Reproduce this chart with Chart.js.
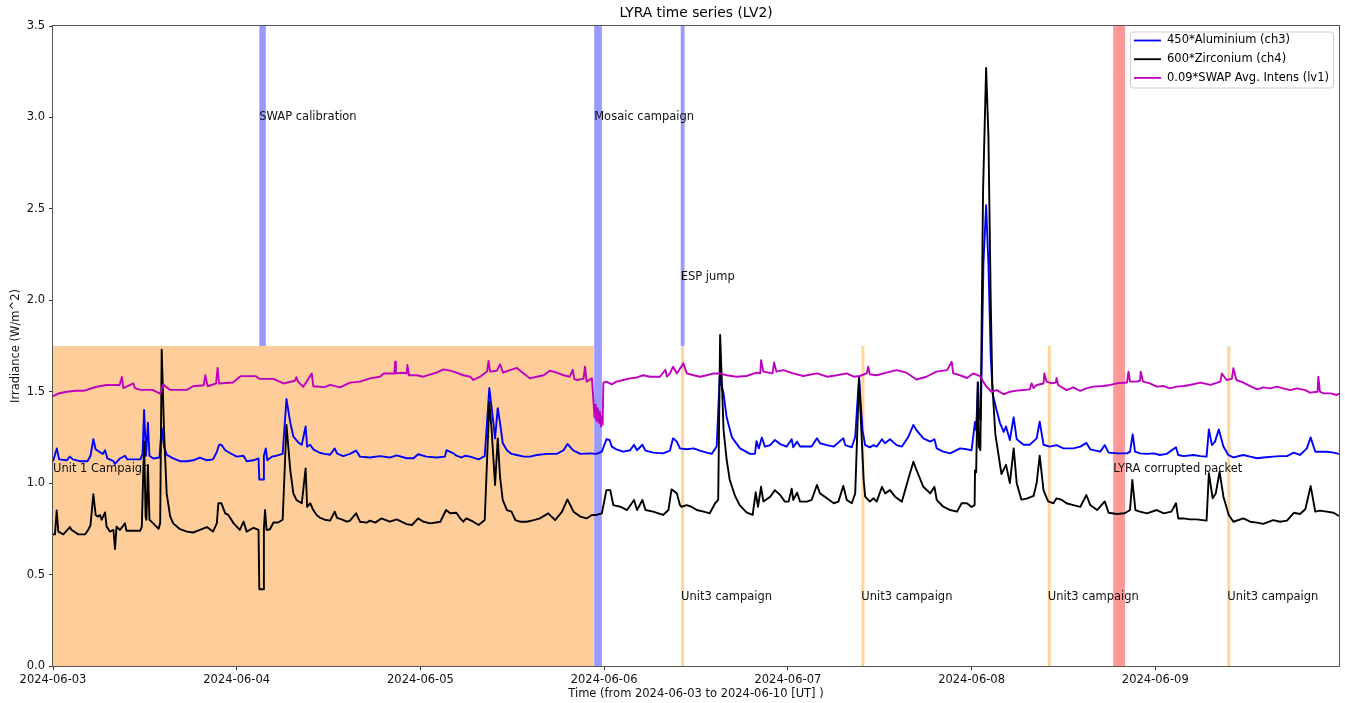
<!DOCTYPE html>
<html>
<head>
<meta charset="utf-8">
<title>LYRA time series (LV2)</title>
<script src="https://cdn.jsdelivr.net/npm/chart.js@4.4.1/dist/chart.umd.min.js"></script>
<style>
  html, body { margin: 0; padding: 0; background: #fff; }
  #wrap { width: 1345px; height: 703px; }
</style>
</head>
<body>
<div id="wrap"><canvas id="lyra-chart"></canvas></div>
<script>
// time axis: hours since 2024-06-03 00:00 UT
const dayLabels = ['2024-06-03', '2024-06-04', '2024-06-05', '2024-06-06', '2024-06-07', '2024-06-08', '2024-06-09', '2024-06-10'];

// 450*Aluminium (ch3)
const alHours = [0, 0.5, 0.8, 1.8, 2.2, 2.6, 3.5, 4.5, 4.9, 5.27, 5.57, 6.1, 6.5, 6.8, 7.1, 7.9, 8.1, 8.75, 9.4, 9.7,
  11.4, 11.7, 11.9, 12.15, 12.4, 12.6, 13.1, 13.9, 14.2, 14.5, 14.85, 15.3, 15.7, 16.6, 17.5, 18.3, 19.2, 20.1, 20.9, 21.4,
  21.7, 22.0, 22.5, 23.1, 24.0, 24.9, 25.3, 26.2, 26.85, 26.95, 27.45, 27.55, 27.8, 28.0, 28.6, 29.2, 30.0, 30.5, 31.0, 31.4,
  32.1, 32.5, 33.0, 33.2, 33.6, 34.0, 34.9, 35.5, 36.2, 36.8, 37.1, 37.9, 38.8, 39.6, 40.1, 41.4, 42.7, 44.0, 44.9, 46.2,
  47.1, 47.7, 48.8, 50.1, 51.2, 51.4, 52.3, 52.7, 53.4, 53.8, 54.5, 55.6, 56.4, 57.0, 57.5, 57.75, 58.1, 58.4, 58.75, 59.3,
  59.9, 60.6, 61.5, 62.3, 63.2, 64.5, 65.8, 66.7, 67.2, 68.0, 68.9, 70.2, 71.0, 71.7, 72.3, 72.7, 73.0, 73.6, 74.5, 75.4,
  75.9, 76.3, 77.0, 77.4, 78.4, 79.7, 80.6, 81.0, 81.5, 81.9, 82.8, 83.7, 84.5, 85.4, 86.05, 86.7, 87.1, 87.6, 88.0, 88.7,
  89.75, 91.05, 91.7, 91.9, 92.2, 92.6, 93.0, 93.7, 94.3, 95.0, 95.85, 96.5, 96.7, 97.2, 97.6, 98.5, 99.1, 99.8, 100.2, 101.1,
  102.0, 103.25, 103.5, 104.35, 104.8, 105.3, 105.75, 106.1, 106.7, 107.2, 107.6, 108.3, 108.7, 109.35, 110.2, 110.9, 111.75, 112.4, 112.8, 113.7,
  114.6, 115.15, 115.45, 116.3, 117.2, 118.5, 119.4, 120.0, 120.45, 120.6, 120.85, 121.0, 121.2, 121.55, 121.9, 122.2, 122.5, 122.75, 123.2, 123.7,
  124.2, 124.5, 125.0, 125.5, 125.9, 126.8, 127.6, 128.5, 128.9, 129.4, 130.2, 131.1, 132.0, 133.3, 134.2, 135.0, 135.5, 136.8, 137.4, 137.9,
  139.0, 140.3, 140.7, 141.05, 141.35, 142.0, 142.9, 143.8, 144.6, 145.5, 146.7, 147.0, 147.7, 149.0, 149.9, 150.7, 151.0, 151.4, 151.8, 152.3,
  152.9, 153.55, 154.2, 155.5, 156.4, 157.3, 158.1, 159.4, 160.3, 161.2, 162.1, 162.9, 163.8, 164.3, 164.9, 165.5, 166.4, 167.3, 168];
const alValues = [1.12, 1.19, 1.13, 1.125, 1.145, 1.13, 1.12, 1.12, 1.15, 1.24, 1.185, 1.17, 1.16, 1.18, 1.135, 1.12, 1.105, 1.135, 1.15, 1.13,
  1.13, 1.16, 1.40, 1.15, 1.33, 1.15, 1.135, 1.14, 1.30, 1.20, 1.155, 1.145, 1.135, 1.12, 1.12, 1.125, 1.14, 1.125, 1.13, 1.17,
  1.21, 1.21, 1.18, 1.165, 1.145, 1.15, 1.12, 1.125, 1.135, 1.02, 1.02, 1.15, 1.19, 1.125, 1.145, 1.15, 1.16, 1.46, 1.33, 1.255,
  1.22, 1.21, 1.31, 1.20, 1.21, 1.185, 1.165, 1.16, 1.155, 1.19, 1.163, 1.148, 1.16, 1.178, 1.145, 1.14, 1.148, 1.14, 1.152, 1.136,
  1.136, 1.158, 1.145, 1.14, 1.145, 1.18, 1.163, 1.15, 1.14, 1.15, 1.145, 1.13, 1.148, 1.52, 1.34, 1.245, 1.41, 1.33, 1.22, 1.18,
  1.16, 1.154, 1.145, 1.145, 1.154, 1.16, 1.16, 1.18, 1.214, 1.178, 1.16, 1.163, 1.16, 1.172, 1.24, 1.236, 1.20, 1.185, 1.172, 1.18,
  1.21, 1.18, 1.21, 1.178, 1.167, 1.163, 1.178, 1.245, 1.227, 1.19, 1.185, 1.19, 1.178, 1.167, 1.16, 1.20, 1.58, 1.49, 1.36, 1.25,
  1.19, 1.16, 1.16, 1.23, 1.19, 1.25, 1.20, 1.208, 1.236, 1.214, 1.20, 1.24, 1.196, 1.227, 1.20, 1.20, 1.20, 1.245, 1.218, 1.208,
  1.20, 1.245, 1.208, 1.196, 1.254, 1.58, 1.29, 1.208, 1.196, 1.208, 1.20, 1.24, 1.218, 1.24, 1.208, 1.20, 1.254, 1.318, 1.29, 1.245,
  1.227, 1.24, 1.19, 1.172, 1.163, 1.19, 1.185, 1.18, 1.335, 1.29, 1.55, 1.36, 1.345, 2.2, 2.52, 2.2, 1.7, 1.49, 1.41, 1.33,
  1.28, 1.31, 1.236, 1.36, 1.24, 1.21, 1.21, 1.245, 1.336, 1.21, 1.20, 1.208, 1.19, 1.19, 1.20, 1.22, 1.185, 1.172, 1.208, 1.167,
  1.163, 1.163, 1.172, 1.267, 1.172, 1.163, 1.16, 1.163, 1.154, 1.16, 1.196, 1.154, 1.148, 1.154, 1.148, 1.145, 1.294, 1.208, 1.227, 1.294,
  1.20, 1.154, 1.141, 1.154, 1.145, 1.136, 1.14, 1.145, 1.148, 1.148, 1.167, 1.154, 1.19, 1.25, 1.172, 1.172, 1.172, 1.167, 1.16];

// 600*Zirconium (ch4)
const zrHours = [0, 0.26, 0.48, 0.7, 1.35, 2.2, 2.4, 3.3, 4.2, 4.6, 4.9, 5.27, 5.57, 5.84, 6.14, 6.36, 6.8, 7.0, 7.45, 7.9,
  8.1, 8.3, 8.75, 9.4, 9.6, 10.5, 11.4, 11.6, 11.9, 12.1, 12.2, 12.4, 12.6, 13.1, 13.8, 14.0, 14.2, 14.5, 14.85, 15.3,
  15.7, 16.6, 17.5, 18.3, 19.2, 20.1, 20.9, 21.4, 21.6, 22.0, 22.5, 22.9, 23.6, 24.4, 24.9, 25.3, 26.2, 26.85, 26.95, 27.45,
  27.55, 27.7, 27.9, 28.35, 28.8, 29.4, 30.0, 30.5, 31.0, 31.4, 31.8, 32.5, 33.0, 33.2, 33.6, 34.0, 34.45, 34.9, 35.5, 36.2,
  36.8, 37.1, 37.7, 38.4, 38.8, 39.6, 40.1, 41.0, 41.4, 42.1, 42.9, 44.0, 44.9, 46.2, 46.9, 47.7, 48.4, 49.3, 50.6, 51.35,
  51.9, 52.7, 53.2, 53.6, 54.0, 54.9, 55.6, 56.4, 57.0, 57.3, 57.75, 58.1, 58.4, 58.75, 59.3, 59.9, 60.4, 61.0, 61.9, 62.8,
  63.6, 64.7, 65.6, 66.5, 67.2, 68.0, 68.9, 69.7, 70.4, 71.0, 71.7, 72.3, 72.8, 73.2, 74.1, 75.0, 75.9, 76.3, 77.0, 77.4,
  78.4, 79.7, 80.4, 80.8, 81.5, 81.9, 82.1, 82.8, 83.4, 84.1, 85.0, 85.8, 86.5, 86.9, 87.15, 87.4, 87.6, 88.0, 88.4, 89.1,
  89.7, 90.6, 91.4, 91.8, 92.1, 92.5, 92.8, 93.7, 94.3, 95.0, 95.6, 96.1, 96.5, 96.7, 97.2, 97.6, 98.5, 99.1, 99.8, 100.2,
  101.1, 102.0, 102.6, 103.25, 103.7, 104.35, 104.8, 105.3, 105.6, 105.9, 106.1, 106.7, 107.2, 107.6, 108.3, 108.7, 109.35, 110.0, 110.9, 111.75,
  112.4, 112.8, 113.7, 114.6, 115.15, 115.45, 116.3, 117.2, 118.1, 118.7, 119.4, 120.0, 120.4, 120.45, 120.6, 120.8, 120.95, 121.15, 121.5, 121.9,
  122.2, 122.5, 122.7, 123.1, 123.5, 123.9, 124.5, 125.0, 125.5, 125.9, 126.5, 127.2, 128.1, 128.5, 128.9, 129.4, 130.0, 130.7, 131.1, 131.8,
  132.4, 133.3, 134.2, 135.0, 135.5, 136.4, 137.4, 137.9, 139.0, 140.0, 140.7, 141.0, 141.4, 142.0, 142.9, 144.2, 145.1, 146.1, 146.7, 147.0,
  147.7, 148.5, 149.4, 150.7, 151.0, 151.5, 151.9, 152.4, 152.9, 153.6, 154.2, 155.5, 156.4, 157.3, 158.1, 159.4, 160.3, 161.2, 162.1, 162.9,
  163.6, 164.3, 164.9, 165.5, 166.4, 167.3, 168];
const zrValues = [0.72, 0.72, 0.85, 0.735, 0.72, 0.76, 0.745, 0.72, 0.72, 0.745, 0.77, 0.94, 0.826, 0.817, 0.826, 0.80, 0.84, 0.762, 0.735, 0.744,
  0.64, 0.762, 0.744, 0.78, 0.74, 0.74, 0.74, 0.762, 1.227, 0.817, 0.80, 1.10, 0.80, 0.78, 0.75, 0.78, 1.73, 1.29, 0.944, 0.82,
  0.78, 0.748, 0.735, 0.73, 0.744, 0.76, 0.735, 0.78, 0.89, 0.89, 0.835, 0.826, 0.78, 0.744, 0.79, 0.735, 0.756, 0.744, 0.42, 0.42,
  0.75, 0.853, 0.744, 0.748, 0.785, 0.785, 0.80, 1.318, 1.07, 0.944, 0.908, 0.89, 1.08, 0.87, 0.89, 0.853, 0.826, 0.81, 0.80, 0.795,
  0.844, 0.81, 0.802, 0.789, 0.795, 0.835, 0.789, 0.784, 0.795, 0.784, 0.807, 0.789, 0.802, 0.776, 0.771, 0.807, 0.789, 0.78, 0.789, 0.853,
  0.835, 0.838, 0.807, 0.789, 0.807, 0.789, 0.771, 0.798, 1.446, 1.29, 0.99, 1.245, 1.035, 0.908, 0.853, 0.844, 0.798, 0.789, 0.789, 0.798,
  0.807, 0.835, 0.798, 0.844, 0.911, 0.844, 0.817, 0.807, 0.826, 0.826, 0.835, 0.962, 0.962, 0.88, 0.871, 0.853, 0.908, 0.853, 0.908, 0.853,
  0.844, 0.826, 0.853, 0.966, 0.944, 0.88, 0.871, 0.88, 0.871, 0.853, 0.844, 0.835, 0.89, 0.908, 1.81, 1.53, 1.29, 1.13, 1.02, 0.93,
  0.88, 0.84, 0.826, 0.95, 0.87, 0.98, 0.90, 0.926, 0.962, 0.935, 0.899, 0.899, 0.97, 0.908, 0.948, 0.899, 0.899, 0.908, 0.99, 0.944,
  0.917, 0.89, 0.899, 0.985, 0.908, 0.89, 0.944, 1.573, 1.29, 1.017, 0.926, 0.899, 0.917, 0.899, 0.98, 0.944, 0.962, 0.926, 0.899, 1.026,
  1.117, 1.072, 0.98, 0.944, 0.98, 0.908, 0.871, 0.853, 0.844, 0.89, 0.89, 0.87, 0.88, 1.07, 1.06, 1.55, 1.20, 1.18, 2.6, 3.27,
  2.9, 2.0, 1.55, 1.27, 1.16, 1.05, 1.10, 1.0, 1.19, 1.0, 0.91, 0.915, 0.93, 1.0, 1.15, 0.96, 0.90, 0.89, 0.917, 0.908,
  0.89, 0.88, 0.87, 0.935, 0.88, 0.853, 0.90, 0.838, 0.831, 0.835, 0.853, 1.017, 0.853, 0.844, 0.835, 0.853, 0.835, 0.844, 0.89, 0.807,
  0.807, 0.802, 0.802, 0.795, 1.054, 0.917, 0.944, 1.063, 0.926, 0.826, 0.789, 0.807, 0.789, 0.784, 0.777, 0.798, 0.789, 0.795, 0.838, 0.831,
  0.857, 0.984, 0.844, 0.85, 0.844, 0.838, 0.82];

// 0.09*SWAP Avg. Intens (lv1)
const swapHours = [0, 0.7, 1.8, 3.0, 4.0, 5.7, 7.0, 8.7, 9.0, 9.2, 10.5, 10.7, 11.4, 13.0, 14.0, 14.4, 15.3, 17.5, 18.3, 19.7,
  19.9, 20.2, 21.3, 21.5, 21.7, 23.5, 24.5, 26.5, 27.0, 28.8, 30.1, 31.6, 31.8, 32.0, 32.7, 33.8, 34.0, 35.5, 36.2, 37.5,
  38.8, 40.1, 41.4, 42.7, 43.2, 44.6, 44.7, 44.8, 45.6, 46.2, 46.3, 46.5, 47.5, 48.4, 49.3, 50.1, 51.0, 51.9, 52.7, 53.6,
  54.5, 54.9, 55.8, 56.7, 56.9, 57.1, 58.0, 58.4, 58.8, 59.7, 60.6, 61.5, 62.3, 63.2, 64.1, 64.9, 65.8, 66.7, 67.5, 67.9,
  68.1, 68.4, 69.3, 69.5, 69.7, 70.4, 70.6, 70.75, 70.9, 71.0, 71.15, 71.3, 71.45, 71.6, 71.75, 71.8, 71.9, 72.3, 73.0, 73.6,
  74.5, 75.4, 76.3, 77.1, 78.0, 79.3, 80.0, 80.2, 80.6, 81.0, 81.5, 82.35, 82.8, 83.7, 84.5, 85.4, 86.3, 87.1, 88.0, 89.3,
  90.6, 91.9, 92.4, 92.5, 92.8, 94.0, 94.2, 94.5, 95.4, 96.7, 98.0, 99.8, 101.1, 102.4, 103.7, 104.6, 105.4, 106.3, 106.5, 106.7,
  107.6, 108.9, 110.2, 111.5, 112.8, 114.1, 115.4, 116.8, 117.4, 117.6, 118.5, 119.4, 120.2, 121.1, 121.9, 122.6, 123.3, 124.2, 125.0, 125.9,
  126.8, 127.6, 127.85, 128.1, 128.5, 129.4, 129.5, 129.8, 130.5, 131.0, 131.1, 131.3, 132.4, 133.3, 134.2, 135.0, 135.9, 137.2, 138.1, 139.0,
  140.3, 140.5, 140.7, 141.6, 142.0, 142.1, 142.4, 143.3, 144.2, 145.1, 145.9, 146.8, 147.7, 148.5, 149.9, 151.2, 152.5, 152.7, 153.3, 154.0,
  154.2, 154.6, 155.5, 156.4, 157.3, 158.1, 159.0, 159.9, 160.7, 161.6, 162.5, 163.6, 164.2, 165.2, 165.3, 165.5, 166.0, 166.9, 167.7, 168];
const swapValues = [1.476, 1.49, 1.50, 1.505, 1.505, 1.527, 1.537, 1.537, 1.58, 1.52, 1.545, 1.52, 1.51, 1.51, 1.49, 1.54, 1.51, 1.51, 1.53, 1.535,
  1.59, 1.53, 1.545, 1.63, 1.545, 1.55, 1.585, 1.585, 1.57, 1.57, 1.545, 1.56, 1.58, 1.555, 1.527, 1.60, 1.53, 1.525, 1.537, 1.524,
  1.55, 1.555, 1.573, 1.582, 1.60, 1.60, 1.664, 1.60, 1.604, 1.60, 1.646, 1.59, 1.59, 1.582, 1.595, 1.604, 1.622, 1.615, 1.604, 1.59,
  1.582, 1.564, 1.582, 1.61, 1.668, 1.61, 1.615, 1.65, 1.604, 1.618, 1.63, 1.60, 1.573, 1.582, 1.59, 1.615, 1.604, 1.59, 1.582, 1.62,
  1.57, 1.564, 1.57, 1.637, 1.555, 1.573, 1.45, 1.36, 1.43, 1.34, 1.41, 1.33, 1.39, 1.31, 1.37, 1.32, 1.55, 1.555, 1.54, 1.555,
  1.564, 1.573, 1.578, 1.59, 1.582, 1.582, 1.62, 1.582, 1.60, 1.637, 1.60, 1.655, 1.60, 1.59, 1.582, 1.59, 1.60, 1.60, 1.59, 1.582,
  1.586, 1.604, 1.60, 1.673, 1.61, 1.60, 1.66, 1.61, 1.618, 1.60, 1.586, 1.60, 1.582, 1.59, 1.60, 1.582, 1.586, 1.60, 1.637, 1.595,
  1.59, 1.604, 1.618, 1.604, 1.567, 1.582, 1.61, 1.618, 1.664, 1.60, 1.59, 1.575, 1.60, 1.585, 1.53, 1.50, 1.509, 1.486, 1.50, 1.506,
  1.509, 1.513, 1.546, 1.52, 1.537, 1.545, 1.60, 1.555, 1.546, 1.55, 1.575, 1.537, 1.509, 1.524, 1.504, 1.518, 1.528, 1.531, 1.537, 1.546,
  1.55, 1.61, 1.555, 1.555, 1.56, 1.61, 1.555, 1.546, 1.528, 1.531, 1.518, 1.528, 1.531, 1.537, 1.55, 1.537, 1.555, 1.60, 1.564, 1.57,
  1.628, 1.564, 1.55, 1.531, 1.513, 1.524, 1.518, 1.528, 1.518, 1.509, 1.518, 1.509, 1.495, 1.50, 1.582, 1.50, 1.491, 1.491, 1.482, 1.49];

// event windows [start, end] in hours
const unit1Campaign = [0, 70.7];
const swapCalibration = [26.95, 27.8];
const mosaicCampaign = [70.7, 71.7];
const espJump = [82.0, 82.5];
const unit3Campaigns = [[82.05, 82.45], [105.6, 106.0], [129.95, 130.35], [153.4, 153.8]];
const corruptedPacket = [138.5, 140.05];

const eventTexts = ['Unit 1 Campaign', 'SWAP calibration', 'Mosaic campaign', 'ESP jump', 'Unit3 campaign', 'LYRA corrupted packet'];

const FONT = '"DejaVu Sans", "Liberation Sans", sans-serif';
Chart.defaults.font.family = FONT;
Chart.defaults.color = '#000';

function toPoints(hours, values) {
  return hours.map((h, i) => ({ x: h, y: values[i] }));
}

const decorPlugin = {
  id: 'lyraDecor',
  beforeDatasetsDraw(chart) {
    const { ctx, chartArea: a, scales: { x, y } } = chart;
    const orange = 'rgb(254, 205, 153)';
    const orangeThin = 'rgb(255, 214, 153)';
    const blue = 'rgb(153, 153, 255)';
    const red = 'rgb(255, 153, 153)';
    const bands = [
      { span: unit1Campaign, lo: 0, hi: 1.75, color: orange },
      { span: swapCalibration, lo: 1.75, hi: 3.5, color: blue },
      { span: mosaicCampaign, lo: 0, hi: 3.5, color: blue },
      { span: espJump, lo: 1.75, hi: 3.5, color: blue },
      { span: corruptedPacket, lo: 0, hi: 3.5, color: red }
    ];
    unit3Campaigns.forEach(s => bands.push({ span: s, lo: 0, hi: 1.75, color: orangeThin }));

    ctx.save();
    ctx.beginPath();
    ctx.rect(a.left, a.top, a.width, a.height);
    ctx.clip();
    bands.forEach(b => {
      const x0 = x.getPixelForValue(b.span[0]);
      const x1 = x.getPixelForValue(b.span[1]);
      const yTop = y.getPixelForValue(b.hi);
      const yBot = y.getPixelForValue(b.lo);
      ctx.fillStyle = b.color;
      ctx.fillRect(x0, yTop, x1 - x0, yBot - yTop);
    });
    ctx.restore();
  },
  afterDatasetsDraw(chart) {
    const { ctx, scales: { x, y } } = chart;
    const notes = [
      [eventTexts[0], unit1Campaign[0], 1.075],
      [eventTexts[1], swapCalibration[0], 3.0],
      [eventTexts[2], mosaicCampaign[0], 3.0],
      [eventTexts[3], espJump[0], 2.125],
      [eventTexts[5], corruptedPacket[0], 1.075]
    ];
    unit3Campaigns.forEach(s => notes.push([eventTexts[4], s[0], 0.375]));
    ctx.save();
    ctx.font = '11.5px ' + FONT;
    ctx.fillStyle = '#111';
    ctx.textAlign = 'left';
    ctx.textBaseline = 'middle';
    notes.forEach(n => ctx.fillText(n[0], x.getPixelForValue(n[1]), y.getPixelForValue(n[2])));
    ctx.restore();
  },
  afterDraw(chart) {
    const { ctx, chartArea: a } = chart;
    ctx.save();
    // frame
    ctx.strokeStyle = '#555';
    ctx.lineWidth = 1;
    ctx.strokeRect(Math.round(a.left) - 0.5, Math.round(a.top) - 0.5, Math.round(a.width) + 1, Math.round(a.height) + 1);

    // title
    ctx.fillStyle = '#000';
    ctx.font = '13.8px ' + FONT;
    ctx.textAlign = 'center';
    ctx.textBaseline = 'middle';
    ctx.fillText('LYRA time series (LV2)', (a.left + a.right) / 2, 13);

    // legend
    const bx = a.right - 209, by = a.top + 5.5, bw = 203, bh = 56;
    ctx.beginPath();
    if (ctx.roundRect) ctx.roundRect(bx + 0.5, by + 0.5, bw, bh, 3);
    else ctx.rect(bx + 0.5, by + 0.5, bw, bh);
    ctx.fillStyle = 'rgba(255,255,255,0.8)';
    ctx.fill();
    ctx.strokeStyle = '#d0d0d0';
    ctx.stroke();
    ctx.font = '11.5px ' + FONT;
    ctx.textAlign = 'left';
    chart.data.datasets.forEach((ds, i) => {
      const ry = by + 9 + i * 18.7;
      ctx.strokeStyle = ds.borderColor;
      ctx.lineWidth = 1.8;
      ctx.beginPath();
      ctx.moveTo(bx + 4, ry);
      ctx.lineTo(bx + 31, ry);
      ctx.stroke();
      ctx.fillStyle = '#000';
      ctx.fillText(ds.label, bx + 37, ry);
    });
    ctx.restore();
  }
};

const ctx = document.getElementById('lyra-chart').getContext('2d');
new Chart(ctx, {
  type: 'line',
  data: {
    datasets: [
      { label: '450*Aluminium (ch3)', data: toPoints(alHours, alValues), borderColor: '#0000ff', order: 3 },
      { label: '600*Zirconium (ch4)', data: toPoints(zrHours, zrValues), borderColor: '#000000', order: 2 },
      { label: '0.09*SWAP Avg. Intens (lv1)', data: toPoints(swapHours, swapValues), borderColor: '#bf00bf', order: 1 }
    ]
  },
  options: {
    responsive: true,
    maintainAspectRatio: false,
    animation: false,
    layout: { padding: { top: 26, right: 6, bottom: 0, left: 0 } },
    elements: {
      line: { borderWidth: 1.9, tension: 0, fill: false, borderJoinStyle: 'round' },
      point: { radius: 0, hoverRadius: 0 }
    },
    plugins: {
      legend: { display: false },
      tooltip: { enabled: false },
      title: { display: false }
    },
    scales: {
      x: {
        type: 'linear',
        min: 0,
        max: 168,
        afterFit(scale) { scale.height = 37; },
        afterBuildTicks(scale) { scale.ticks = scale.ticks.filter(t => t.value < 168); },
        border: { display: false },
        grid: { display: true, drawOnChartArea: false, drawTicks: true, tickLength: 4, tickColor: '#333' },
        ticks: {
          stepSize: 24,
          maxRotation: 0,
          autoSkip: false,
          padding: 3,
          color: '#111',
          font: { size: 11.5 },
          callback: v => dayLabels[Math.round(v / 24)]
        },
        title: {
          display: true,
          text: 'Time (from 2024-06-03 to 2024-06-10 [UT] )',
          color: '#111',
          font: { size: 11.5 },
          padding: { top: 0, bottom: 2 }
        }
      },
      y: {
        min: 0,
        max: 3.5,
        afterFit(scale) { scale.width = 53; },
        border: { display: false },
        grid: { display: true, drawOnChartArea: false, drawTicks: true, tickLength: 4, tickColor: '#333' },
        ticks: {
          stepSize: 0.5,
          padding: 4,
          color: '#111',
          font: { size: 11.5 },
          callback: v => v.toFixed(1)
        },
        title: {
          display: true,
          text: 'Irradiance (W/m^2)',
          color: '#111',
          font: { size: 11.5 },
          padding: { top: 9, bottom: 0 }
        }
      }
    }
  },
  plugins: [decorPlugin]
});
</script>
</body>
</html>
